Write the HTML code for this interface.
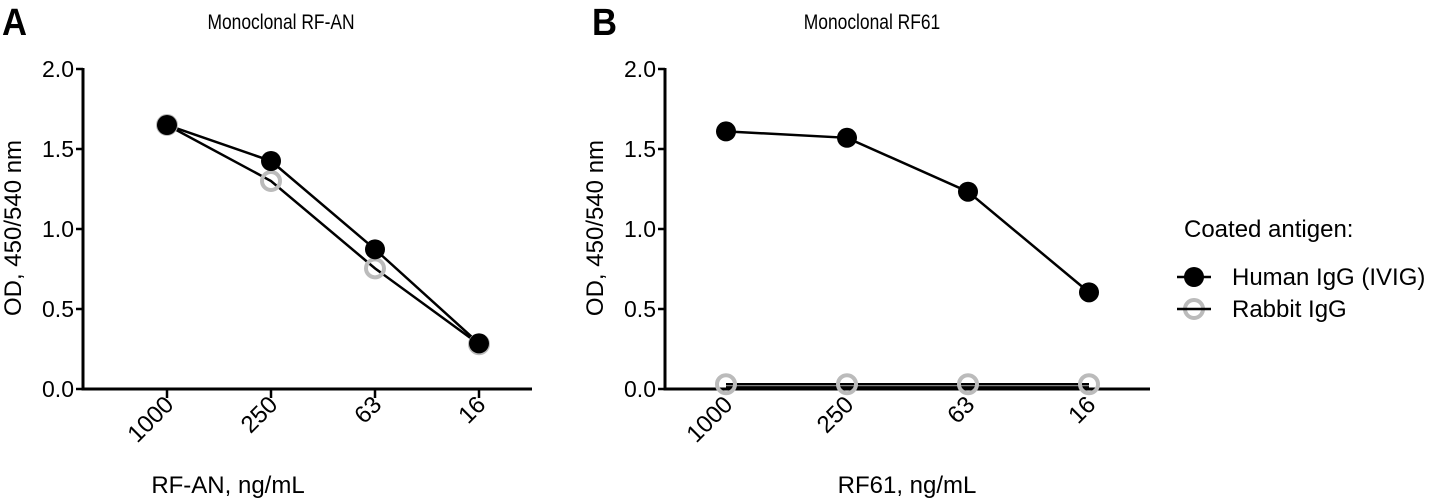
<!DOCTYPE html>
<html><head><meta charset="utf-8"><style>
html,body{margin:0;padding:0;background:#fff}
svg{display:block;font-family:"Liberation Sans",Arial,sans-serif}
</style></head><body>
<svg id="chart" width="1433" height="500" viewBox="0 0 1433 500"></svg>
<script>
const categories = ["1000","250","63","16"];
const yTicks = [0, 0.5, 1.0, 1.5, 2.0];
const yTickLabels = ["0.0","0.5","1.0","1.5","2.0"];
const aHuman = [1.65, 1.425, 0.873, 0.285];
const aRabbit = [1.65, 1.30, 0.754, 0.28];
const bHuman = [1.61, 1.57, 1.233, 0.604];
const bRabbit = [0.03, 0.03, 0.03, 0.03];
const bExtra = [0.01, 0.01, 0.01, 0.01];

const NS = "http://www.w3.org/2000/svg";
const svg = document.getElementById('chart');
function mk(tag, attrs, parent, text){
  const e = document.createElementNS(NS, tag);
  for (const k in attrs) e.setAttribute(k, attrs[k]);
  if (text !== undefined) e.textContent = text;
  (parent||svg).appendChild(e);
  return e;
}
function makePanel(cfg){
  const g = mk('g', {});
  
  
  const yS = v => 389 - v * 160;
  const xS = i => cfg.x0 + i * cfg.step;
  const L = mk('text', {x: cfg.letterX, y: 35, 'font-size': 38, 'font-weight': 'bold', textLength: 25, lengthAdjust: 'spacingAndGlyphs'}, g, cfg.letter);
  
  
  const tx = cfg.titleX;
  const T = mk('text', {x: 0, y: 0, 'font-size': 21, 'text-anchor': 'middle', transform: `translate(${tx} 29) scale(0.83 1)`}, g, cfg.title);
  
  
  const ya = mk('line', {x1: cfg.ax, y1: 68, x2: cfg.ax, y2: 390.5, stroke: '#000', 'stroke-width': 3}, g);
  
  
  const xa = mk('line', {x1: cfg.ax - 1.5, y1: 389, x2: cfg.axEnd, y2: 389, stroke: '#000', 'stroke-width': 3}, g);
  
  
  yTicks.forEach((v, i) => {
    const t = mk('line', {x1: cfg.ax - 7, y1: yS(v), x2: cfg.ax, y2: yS(v), stroke: '#000', 'stroke-width': 2.5}, g);
    
    
    const lb = mk('text', {x: cfg.ax - 9, y: yS(v) + 8, 'font-size': 23, 'text-anchor': 'end'}, g, yTickLabels[i]);
    
    
  });
  categories.forEach((c, i) => {
    if (cfg.xTicks) {
      const t = mk('line', {x1: xS(i), y1: 389, x2: xS(i), y2: 398, stroke: '#000', 'stroke-width': 2.5}, g);
      
      
    }
    const px = xS(i) + 8, py = 406;
    const lb = mk('text', {x: px, y: py, 'font-size': 24, 'text-anchor': 'end', transform: `rotate(-45 ${px} ${py})`}, g, c);
    
    
  });
  const xt = mk('text', {x: cfg.xTitleX, y: 493, 'font-size': 24, 'text-anchor': 'middle'}, g, cfg.xTitle);
  
  
  const yx = cfg.ax - 62;
  const yt = mk('text', {x: yx, y: 228, 'font-size': 24, 'text-anchor': 'middle', transform: `rotate(-90 ${yx} 228)`}, g, 'OD, 450/540 nm');
  
  
  cfg.series.forEach(s => {
    const pts = s.vals.map((v, i) => `${xS(i)},${yS(v)}`).join(' ');
    const pl = mk('polyline', {points: pts, fill: 'none', stroke: '#000', 'stroke-width': 2.5}, g);
    
    
  });
  cfg.series.forEach(s => {
    if (!s.marker) return;
    s.vals.forEach((v, i) => {
      let c;
      if (s.marker === 'filled') c = mk('circle', {cx: xS(i), cy: yS(v), r: 10, fill: '#000'}, g);
      else c = mk('circle', {cx: xS(i), cy: yS(v), r: 9, fill: 'none', stroke: '#bbb', 'stroke-width': 4}, g);
      
      
    });
  });
}
makePanel({name:'panel-a', letter:'A', letterX:2, title:'Monoclonal RF-AN', titleX:281, ax:83, axEnd:532, x0:167, step:104,
  xTicks:true, xTitle:'RF-AN, ng/mL', xTitleX:228,
  series:[{name:'rabbit-igg', vals:aRabbit, marker:'open'},{name:'human-igg', vals:aHuman, marker:'filled'}]});
makePanel({name:'panel-b', letter:'B', letterX:592, title:'Monoclonal RF61', titleX:872, ax:665, axEnd:1150, x0:726, step:121,
  xTicks:false, xTitle:'RF61, ng/mL', xTitleX:907,
  series:[{name:'human-igg', vals:bHuman, marker:'filled'},{name:'extra', vals:bExtra, marker:null},{name:'rabbit-igg', vals:bRabbit, marker:'open'}]});
const lg = mk('g', {});


const lt = mk('text', {x: 1184, y: 237, 'font-size': 24}, lg, 'Coated antigen:');


const e1 = mk('g', {}, lg);


mk('line', {x1: 1177, y1: 277, x2: 1211, y2: 277, stroke: '#000', 'stroke-width': 2.5}, e1);
mk('circle', {cx: 1194, cy: 277, r: 10, fill: '#000'}, e1);
mk('text', {x: 1232, y: 285, 'font-size': 24}, e1, 'Human IgG (IVIG)');
const e2 = mk('g', {}, lg);


mk('circle', {cx: 1194, cy: 309, r: 9, fill: 'none', stroke: '#bbb', 'stroke-width': 4}, e2);
mk('line', {x1: 1177, y1: 309, x2: 1211, y2: 309, stroke: '#000', 'stroke-width': 2.5}, e2);
mk('text', {x: 1232, y: 317, 'font-size': 24}, e2, 'Rabbit IgG');
</script>
</body></html>
